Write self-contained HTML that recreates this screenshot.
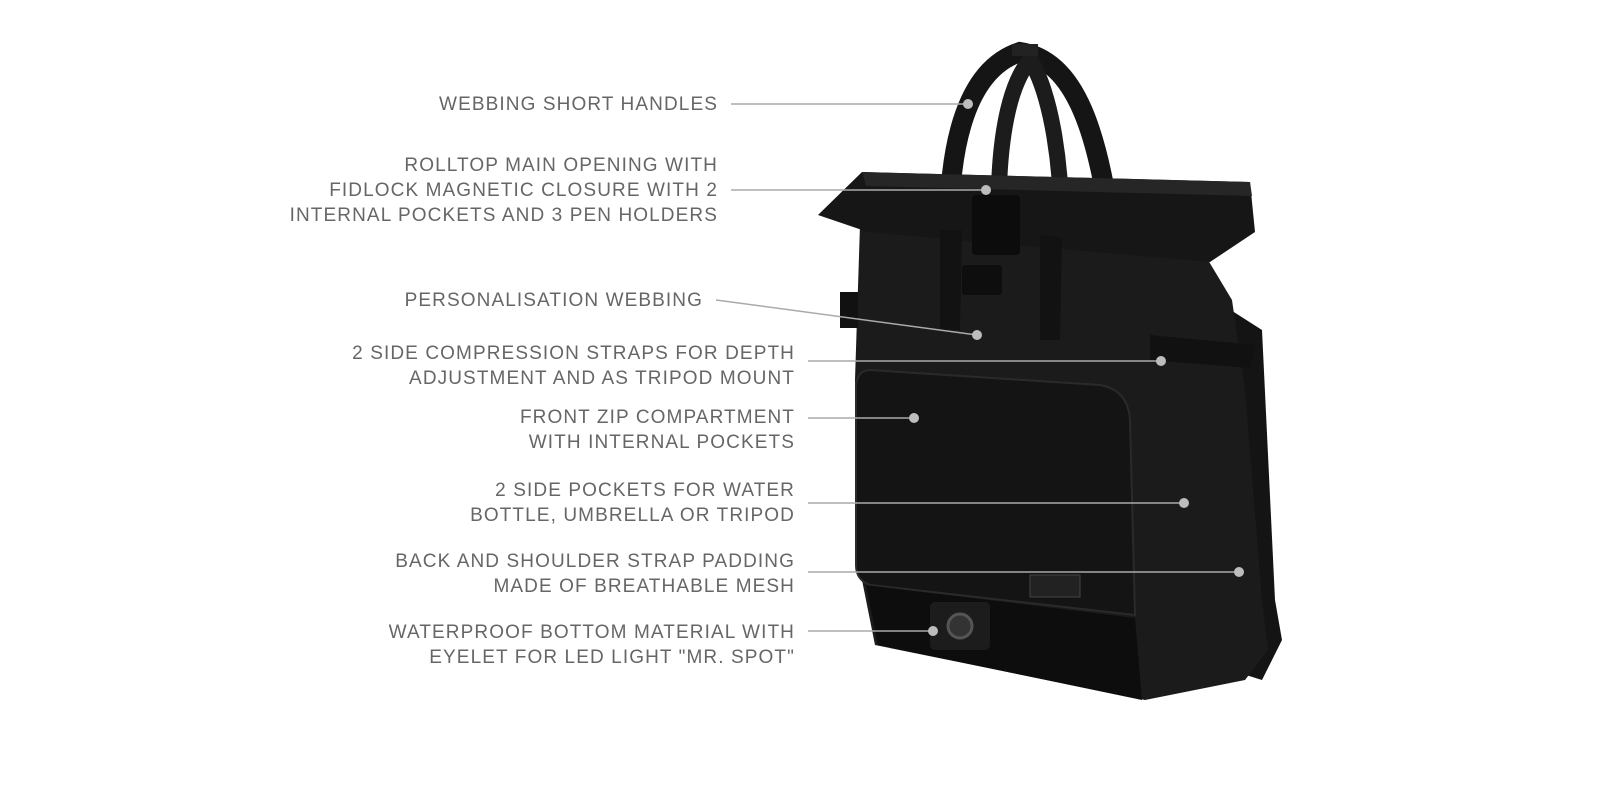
<!DOCTYPE html>
<html><head><meta charset="utf-8"><style>
html,body{margin:0;padding:0;background:#fff;width:1600px;height:800px;overflow:hidden}
.t{position:absolute;font-family:"Liberation Sans",sans-serif;font-size:19px;letter-spacing:1.1px;color:#666;text-align:right;line-height:25px;white-space:nowrap}
svg{position:absolute;left:0;top:0}
</style></head><body>
<svg width="1600" height="800" viewBox="0 0 1600 800">
 <path d="M950 260 C945 150 965 70 1020 52 C1075 60 1100 130 1115 260" fill="none" stroke="#151515" stroke-width="20"/>
 <path d="M1000 250 C995 160 1005 90 1030 60 C1050 90 1065 170 1060 250" fill="none" stroke="#1c1c1c" stroke-width="16"/>
 <rect x="1012" y="44" width="26" height="12" fill="#222"/>
 <path d="M1215 300 L1262 330 L1275 600 L1282 640 L1262 680 L1230 670 Z" fill="#141414"/>
 <path d="M860 225 L1205 255 L1232 300 L1245 390 L1262 600 L1268 650 L1245 680 L1145 700 L875 645 L858 560 L855 380 Z" fill="#1b1b1b"/>
 <path d="M818 215 L862 172 L1250 182 L1255 232 L1210 262 L868 232 Z" fill="#161616"/>
 <path d="M862 172 L1250 182 L1252 196 L866 186 Z" fill="#262626"/>
 <path d="M940 230 L962 230 L960 330 L940 330 Z" fill="#121212"/>
 <path d="M1040 235 L1062 238 L1060 340 L1040 340 Z" fill="#121212"/>
 <rect x="972" y="195" width="48" height="60" rx="4" fill="#0c0c0c"/>
 <rect x="962" y="265" width="40" height="30" rx="3" fill="#0e0e0e"/>
 <path d="M1150 335 L1255 345 L1250 368 L1150 360 Z" fill="#111"/>
 <rect x="840" y="292" width="18" height="36" fill="#111"/>
 <path d="M870 370 L1100 385 Q1128 390 1130 420 L1135 615 L870 585 Q856 580 856 565 L856 385 Q858 370 870 370 Z" fill="#141414" stroke="#2a2a2a" stroke-width="2"/>
 <path d="M866 585 L1135 618 L1142 700 L878 645 Z" fill="#0d0d0d"/>
 <rect x="1030" y="575" width="50" height="22" fill="#222" stroke="#444"/>
 <rect x="930" y="602" width="60" height="48" rx="5" fill="#1c1c1c"/>
 <circle cx="960" cy="626" r="12" fill="#333" stroke="#555" stroke-width="3"/>
 <g stroke="#aaa" stroke-width="1.5" fill="none">
  <line x1="731" y1="104" x2="968" y2="104"/>
  <line x1="731" y1="190" x2="986" y2="190"/>
  <line x1="716" y1="300" x2="977" y2="335"/>
  <line x1="808" y1="361" x2="1161" y2="361"/>
  <line x1="808" y1="418" x2="914" y2="418"/>
  <line x1="808" y1="503" x2="1184" y2="503"/>
  <line x1="808" y1="572" x2="1239" y2="572"/>
  <line x1="808" y1="631" x2="933" y2="631"/>
 </g>
 <g fill="#bdbdbd">
  <circle cx="968" cy="104" r="5"/><circle cx="986" cy="190" r="5"/><circle cx="977" cy="335" r="5"/>
  <circle cx="1161" cy="361" r="5"/><circle cx="914" cy="418" r="5"/><circle cx="1184" cy="503" r="5"/>
  <circle cx="1239" cy="572" r="5"/><circle cx="933" cy="631" r="5"/>
 </g>
</svg>
<div class="t" style="right:882px;top:92px">WEBBING SHORT HANDLES</div>
<div class="t" style="right:882px;top:153px">ROLLTOP MAIN OPENING WITH<br>FIDLOCK MAGNETIC CLOSURE WITH 2<br>INTERNAL POCKETS AND 3 PEN HOLDERS</div>
<div class="t" style="right:897px;top:288px">PERSONALISATION WEBBING</div>
<div class="t" style="right:805px;top:341px">2 SIDE COMPRESSION STRAPS FOR DEPTH<br>ADJUSTMENT AND AS TRIPOD MOUNT</div>
<div class="t" style="right:805px;top:405px">FRONT ZIP COMPARTMENT<br>WITH INTERNAL POCKETS</div>
<div class="t" style="right:805px;top:478px">2 SIDE POCKETS FOR WATER<br>BOTTLE, UMBRELLA OR TRIPOD</div>
<div class="t" style="right:805px;top:549px">BACK AND SHOULDER STRAP PADDING<br>MADE OF BREATHABLE MESH</div>
<div class="t" style="right:805px;top:620px">WATERPROOF BOTTOM MATERIAL WITH<br>EYELET FOR LED LIGHT "MR. SPOT"</div>
</body></html>
